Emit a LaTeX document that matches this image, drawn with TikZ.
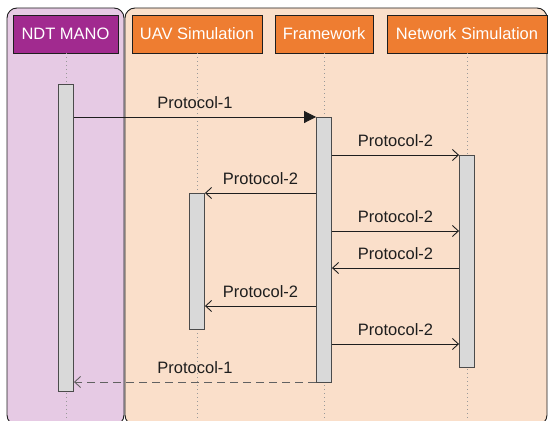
\documentclass[tikz,border=0pt]{standalone}
\usepackage{fontspec}
\setmainfont{Liberation Sans}
\usetikzlibrary{arrows.meta}
\definecolor{panelP}{HTML}{E6CAE4}
\definecolor{panelO}{HTML}{FADFCA}
\definecolor{headP}{HTML}{A12A8F}
\definecolor{headO}{HTML}{EE7D31}
\definecolor{barG}{HTML}{D9D9D9}
\definecolor{ink}{HTML}{1E1E1E}
\tikzset{
  panel/.style={draw=ink, line width=0.9pt, rounded corners=10pt},
  head/.style={draw=ink, line width=0.9pt, text=white, minimum height=38pt, inner sep=0pt,
    font=\fontsize{16.5}{18}\selectfont},
  life/.style={draw=gray!80, line width=0.9pt, dash pattern=on 1pt off 3pt},
  actbar/.style={draw=ink!80, fill=barG, line width=0.9pt, minimum width=15pt, inner sep=0pt},
  msg/.style={draw=ink, line width=0.9pt, -{Straight Barb[length=6pt,width=11pt,line width=0.9pt]}},
  lbl/.style={anchor=south, inner sep=0pt, yshift=8pt, text=ink, font=\fontsize{16.5}{18}\selectfont}
}
\begin{document}
\begin{tikzpicture}[x=1pt,y=-1pt]
\useasboundingbox (0,0) rectangle (548,420);
\clip (0,0) rectangle (548,420);
% panels
\draw[panel, fill=panelO] (125,8) rectangle (547,425);
\draw[panel, fill=panelP] (7,8) rectangle (124,425);
% headers
\node[head, fill=headP, minimum width=105pt] (ndt) at (65.5,34) {NDT MANO};
\node[head, fill=headO, minimum width=130pt] (uav) at (197,34) {UAV Simulation};
\node[head, fill=headO, minimum width=98pt] (fw) at (324,34) {Framework};
\node[head, fill=headO, minimum width=160pt] (net) at (467,34) {Network Simulation};
% lifelines
\coordinate (ndtE) at (66,420);
\coordinate (uavE) at (197,420);
\coordinate (fwE) at (324,420);
\coordinate (netE) at (467,420);
\draw[life] (ndt.south -| ndtE) -- (ndtE);
\draw[life] (uav.south -| uavE) -- (uavE);
\draw[life] (fw.south -| fwE) -- (fwE);
\draw[life] (net.south -| netE) -- (netE);
% activation bars
\node[actbar, minimum height=307pt] (ndtbar) at (66,237.5) {};
\node[actbar, minimum height=265pt] (fwbar) at (324,249.5) {};
\node[actbar, minimum height=212pt] (netbar) at (467,261) {};
\node[actbar, minimum height=136pt] (uavbar) at (197,261) {};
% message levels
\coordinate (m1) at (0,117);
\coordinate (m2) at (0,155);
\coordinate (m3) at (0,193);
\coordinate (m4) at (0,231);
\coordinate (m5) at (0,268);
\coordinate (m6) at (0,306);
\coordinate (m7) at (0,344);
\coordinate (m8) at (0,382);
% messages
\draw[draw=ink, line width=0.9pt, -{Triangle[length=12pt,width=12pt]}] (ndtbar.east |- m1) -- node[lbl]{Protocol-1} (fwbar.west |- m1);
\draw[msg] (fwbar.east |- m2) -- node[lbl]{Protocol-2} (netbar.west |- m2);
\draw[msg] (fwbar.west |- m3) -- node[lbl]{Protocol-2} (uavbar.east |- m3);
\draw[msg] (fwbar.east |- m4) -- node[lbl]{Protocol-2} (netbar.west |- m4);
\draw[msg] (netbar.west |- m5) -- node[lbl]{Protocol-2} (fwbar.east |- m5);
\draw[msg] (fwbar.west |- m6) -- node[lbl]{Protocol-2} (uavbar.east |- m6);
\draw[msg] (fwbar.east |- m7) -- node[lbl]{Protocol-2} (netbar.west |- m7);
\draw[msg, draw=ink!70, dash pattern=on 8pt off 5pt] (fwbar.west |- m8) -- node[lbl]{Protocol-1} (ndtbar.east |- m8);
\end{tikzpicture}
\end{document}
